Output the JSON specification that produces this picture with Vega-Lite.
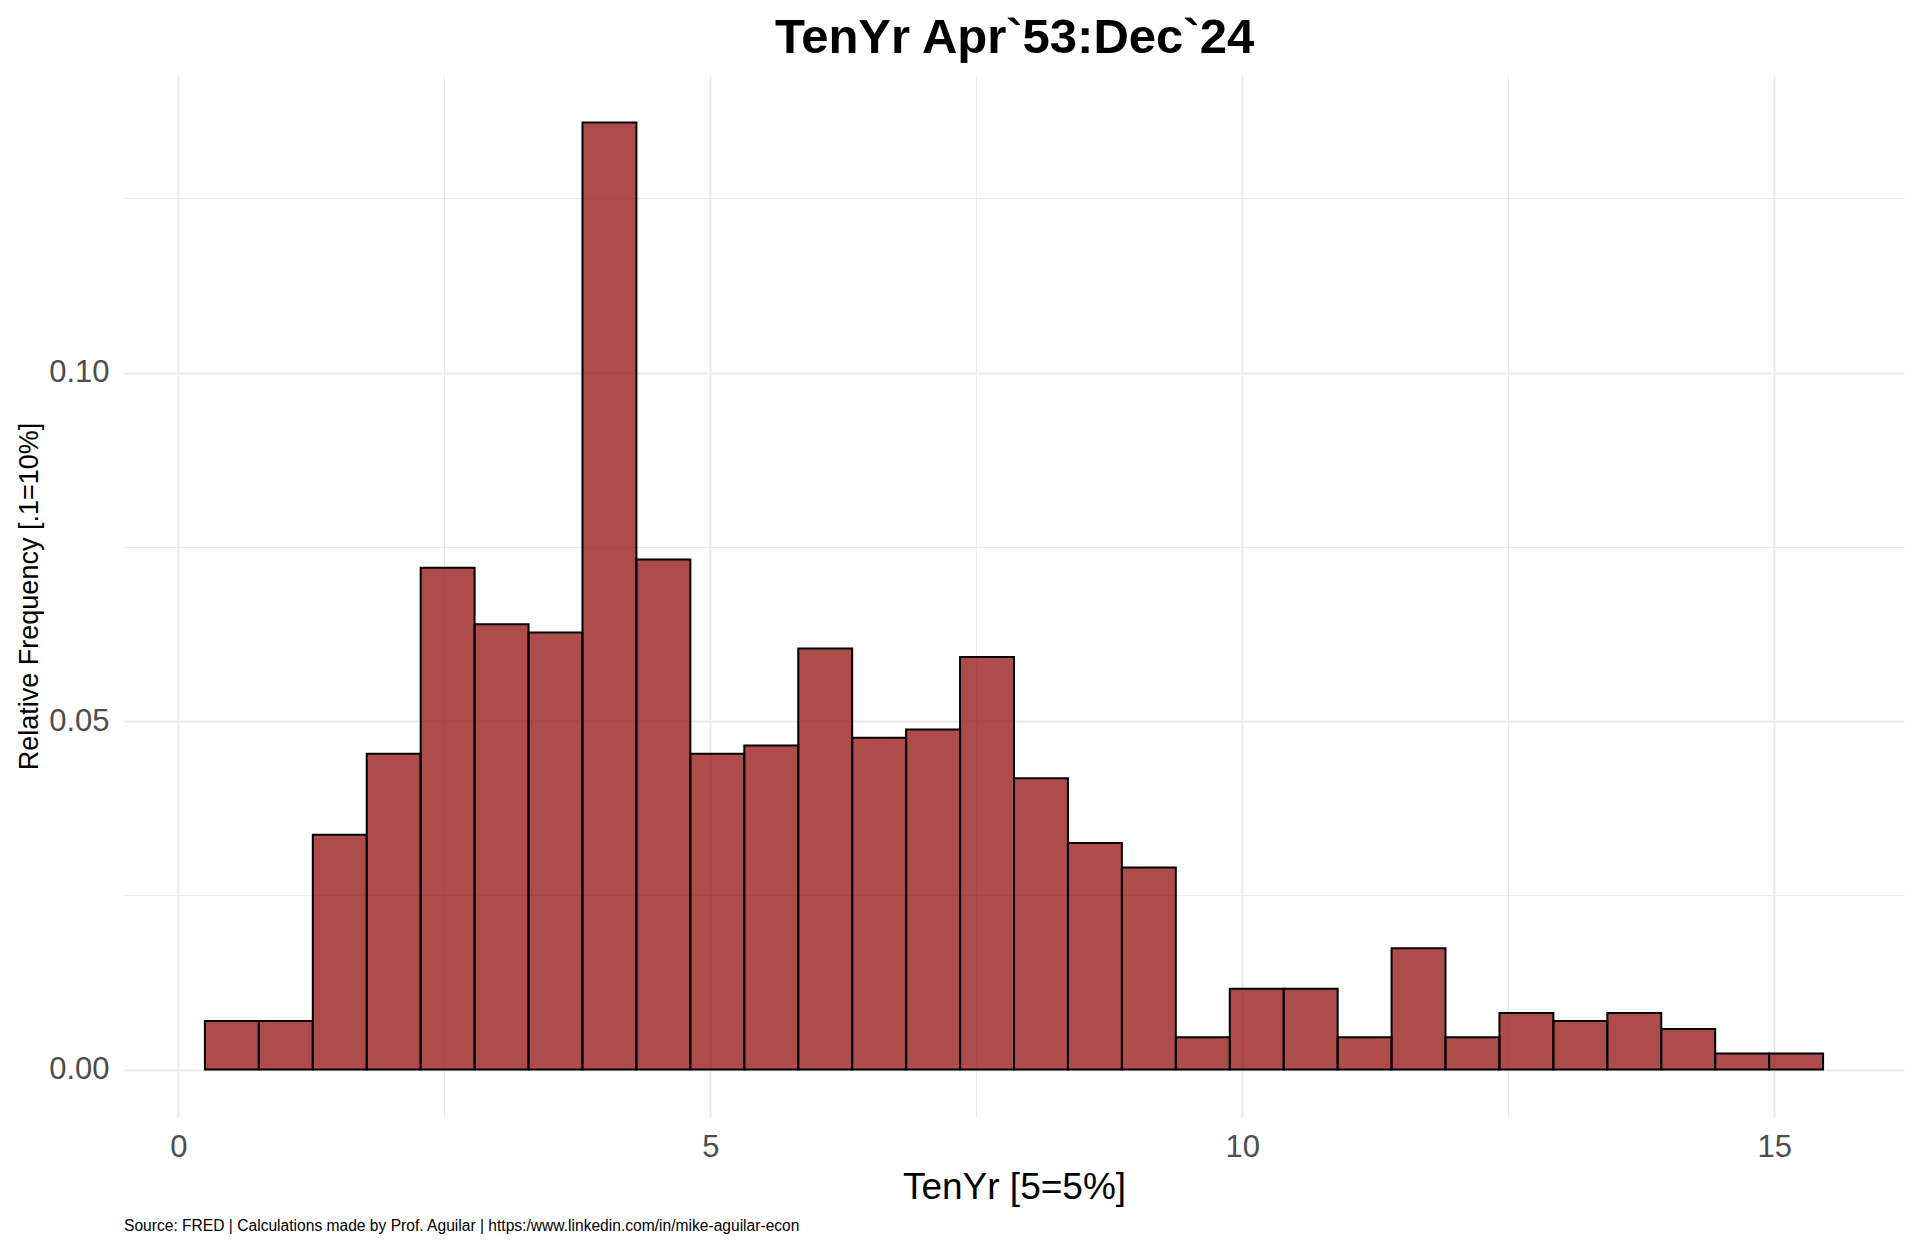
{
  "$schema": "https://vega.github.io/schema/vega-lite/v6.json",
  "description": "Histogram of the ten year rate, relative frequency per bin",
  "autosize": {"type": "none"},
  "width": 1780,
  "height": 1042,
  "padding": {"left": 124, "top": 75, "right": 16, "bottom": 131},
  "background": "white",
  "config": {
    "view": {"stroke": null},
    "font": "Liberation Sans"
  },
  "title": {
    "text": "Source: FRED | Calculations made by Prof. Aguilar | https:/www.linkedin.com/in/mike-aguilar-econ",
    "orient": "bottom",
    "anchor": "start",
    "frame": "group",
    "font": "Liberation Sans Narrow, Arial Narrow, Liberation Sans",
    "fontSize": 15.6,
    "fontWeight": "normal",
    "color": "black",
    "baseline": "alphabetic",
    "offset": 26
  },
  "data": {
    "values": [
      {"bin_start": 0.25, "bin_end": 0.757, "freq": 0.00697},
      {"bin_start": 0.757, "bin_end": 1.264, "freq": 0.00697},
      {"bin_start": 1.264, "bin_end": 1.771, "freq": 0.03368},
      {"bin_start": 1.771, "bin_end": 2.278, "freq": 0.0453},
      {"bin_start": 2.278, "bin_end": 2.785, "freq": 0.0720},
      {"bin_start": 2.785, "bin_end": 3.292, "freq": 0.0639},
      {"bin_start": 3.292, "bin_end": 3.799, "freq": 0.0627},
      {"bin_start": 3.799, "bin_end": 4.306, "freq": 0.1359},
      {"bin_start": 4.306, "bin_end": 4.813, "freq": 0.0732},
      {"bin_start": 4.813, "bin_end": 5.32, "freq": 0.0453},
      {"bin_start": 5.32, "bin_end": 5.827, "freq": 0.0465},
      {"bin_start": 5.827, "bin_end": 6.334, "freq": 0.0604},
      {"bin_start": 6.334, "bin_end": 6.841, "freq": 0.0476},
      {"bin_start": 6.841, "bin_end": 7.348, "freq": 0.0488},
      {"bin_start": 7.348, "bin_end": 7.855, "freq": 0.0592},
      {"bin_start": 7.855, "bin_end": 8.362, "freq": 0.0418},
      {"bin_start": 8.362, "bin_end": 8.869, "freq": 0.0325},
      {"bin_start": 8.869, "bin_end": 9.376, "freq": 0.0290},
      {"bin_start": 9.376, "bin_end": 9.883, "freq": 0.00465},
      {"bin_start": 9.883, "bin_end": 10.39, "freq": 0.0116},
      {"bin_start": 10.39, "bin_end": 10.897, "freq": 0.0116},
      {"bin_start": 10.897, "bin_end": 11.404, "freq": 0.00465},
      {"bin_start": 11.404, "bin_end": 11.911, "freq": 0.0174},
      {"bin_start": 11.911, "bin_end": 12.418, "freq": 0.00465},
      {"bin_start": 12.418, "bin_end": 12.925, "freq": 0.00813},
      {"bin_start": 12.925, "bin_end": 13.432, "freq": 0.00697},
      {"bin_start": 13.432, "bin_end": 13.939, "freq": 0.00813},
      {"bin_start": 13.939, "bin_end": 14.446, "freq": 0.00581},
      {"bin_start": 14.446, "bin_end": 14.953, "freq": 0.00232},
      {"bin_start": 14.953, "bin_end": 15.46, "freq": 0.00232}
    ]
  },
  "layer": [
    {
      "mark": {"type": "bar", "fill": "#8B0000", "fillOpacity": 0.7, "stroke": "black", "strokeWidth": 2},
      "encoding": {
        "x": {
          "field": "bin_start",
          "type": "quantitative",
          "scale": {"domain": [-0.5105, 16.2205], "nice": false, "zero": false},
          "axis": {
            "orient": "bottom",
            "title": "TenYr [5=5%]",
            "values": [0, 2.5, 5, 7.5, 10, 12.5, 15],
            "labelExpr": "datum.value % 5 === 0 ? datum.label : ''",
            "labelFontSize": 31,
            "labelColor": "#4D4D4D",
            "labelBaseline": "alphabetic",
            "labelPadding": 39,
            "labelFlush": false,
            "labelOverlap": false,
            "ticks": false,
            "tickSize": 0,
            "domain": false,
            "grid": true,
            "gridColor": "#EBEBEB",
            "gridWidth": {"condition": {"test": "datum.value % 5 === 0", "value": 2}, "value": 1},
            "titleFontSize": 37,
            "titleFontWeight": "normal",
            "titleColor": "black",
            "titleBaseline": "alphabetic",
            "titlePadding": 36
          }
        },
        "x2": {"field": "bin_end"},
        "y": {
          "field": "freq",
          "type": "quantitative",
          "scale": {"domain": [-0.0068, 0.1427], "nice": false, "zero": false},
          "axis": {
            "title": "Relative Frequency [.1=10%]",
            "values": [0, 0.025, 0.05, 0.075, 0.1, 0.125],
            "format": ".2f",
            "labelExpr": "round(datum.value * 1000) % 50 === 0 ? datum.label : ''",
            "labelFontSize": 31,
            "labelColor": "#4D4D4D",
            "labelPadding": 15,
            "labelOverlap": false,
            "labelFlush": false,
            "ticks": false,
            "tickSize": 0,
            "domain": false,
            "grid": true,
            "gridColor": "#EBEBEB",
            "gridWidth": {"condition": {"test": "round(datum.value * 1000) % 50 === 0", "value": 2}, "value": 1},
            "titleFontSize": 27,
            "titleFontWeight": "normal",
            "titleColor": "black",
            "titleBaseline": "alphabetic",
            "titlePadding": 11
          }
        },
        "y2": {"datum": 0}
      }
    },
    {
      "mark": {"type": "bar", "opacity": 0},
      "encoding": {
        "x": {
          "field": "bin_start",
          "type": "quantitative",
          "axis": {
            "orient": "top",
            "title": "TenYr Apr`53:Dec`24",
            "labels": false,
            "ticks": false,
            "domain": false,
            "grid": false,
            "titleFontSize": 49,
            "titleFontWeight": "bold",
            "titleColor": "black",
            "titleBaseline": "alphabetic",
            "titlePadding": 23
          }
        },
        "x2": {"field": "bin_end"}
      }
    }
  ],
  "resolve": {"axis": {"x": "independent"}}
}
